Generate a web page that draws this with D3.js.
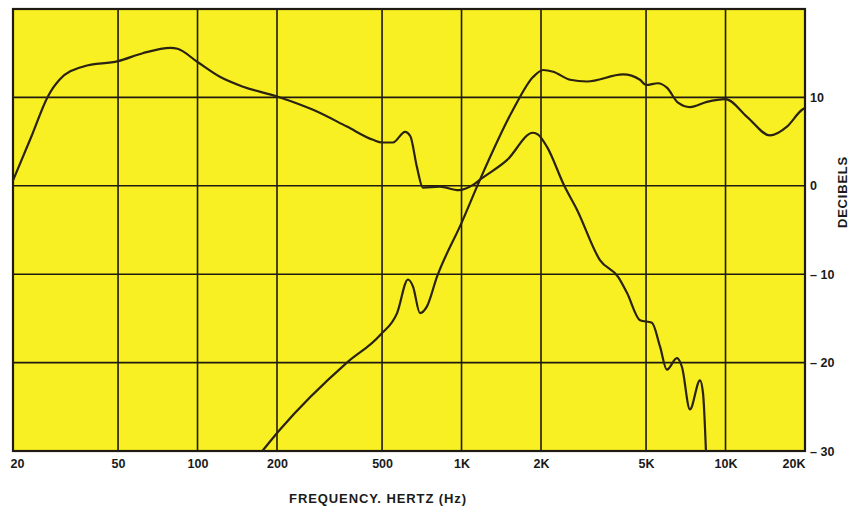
<!DOCTYPE html>
<html>
<head>
<meta charset="utf-8">
<script src="https://cdn.jsdelivr.net/npm/d3@7"></script>
<style>
  html, body { margin: 0; padding: 0; background: #ffffff; }
  svg { display: block; }
  text { font-family: "Liberation Sans", Arial, sans-serif; font-weight: bold; fill: #1a1a1a; }
</style>
</head>
<body>
<svg id="chart" width="856" height="507"></svg>
<script>
// ---- data ----
const xTicks = [20, 50, 100, 200, 500, 1000, 2000, 5000, 10000, 20000];
const xTickLabels = ["20", "50", "100", "200", "500", "1K", "2K", "5K", "10K", "20K"];
const yTicks = [10, 0, -10, -20, -30];
const yTickLabels = ["10", "0", "\u2013 10", "\u2013 20", "\u2013 30"];

// woofer response (frequency Hz, dB)
const wooferFreq = [20, 23.5, 27, 28.4, 30, 37, 50, 62, 79, 84, 100, 122, 149, 200, 244, 274, 368, 462, 500, 550, 611, 640, 678, 714, 828, 975, 1105, 1175, 1486, 1866, 1950, 2108, 2450, 2737, 3344, 3918, 4233, 4743, 5264, 5649, 5997, 6545, 6840, 7331, 8004, 8214, 8430];
const wooferDb   = [0.6, 5.6, 10, 11.1, 12.0, 13.5, 14.1, 15.0, 15.6, 15.5, 14.0, 12.3, 11.2, 10.1, 9.2, 8.6, 6.7, 5.2, 4.9, 4.9, 6.1, 5.6, 2.1, -0.2, -0.1, -0.5, 0.1, 0.7, 2.9, 6.0, 5.8, 4.4, 0.0, -2.7, -8.4, -10.3, -12.1, -15.2, -15.5, -18.2, -20.8, -19.5, -20.5, -25.3, -22.0, -23.4, -30];

// tweeter response (frequency Hz, dB)
const tweeterFreq = [176, 205, 368, 491, 570, 627, 655, 696, 738, 807, 1000, 1175, 1567, 1866, 2037, 2225, 2576, 2987, 4092, 4743, 5000, 5548, 5997, 6606, 7331, 8505, 10000, 12060, 14730, 17090, 19500, 20000];
const tweeterDb   = [-30, -27.6, -20.0, -16.9, -14.4, -10.6, -11.4, -14.4, -13.7, -10.3, -4.2, 0.7, 8.6, 12.3, 13.1, 12.9, 12.0, 11.8, 12.6, 12.0, 11.4, 11.6, 11.1, 9.4, 8.9, 9.5, 9.8, 7.8, 5.7, 6.7, 8.6, 8.8];

// ---- layout ----
const svg = d3.select("#chart");
const x = d3.scaleLog().domain([20, 20000]).range([13, 805]);
const y = d3.scaleLinear().domain([-30, 20]).range([451, 9]);

// plot background
svg.append("rect")
  .attr("x", x(20)).attr("y", y(20))
  .attr("width", x(20000) - x(20)).attr("height", y(-30) - y(20))
  .attr("fill", "#f8f022");

// grid
const grid = svg.append("g").attr("stroke", "#1f1a12").attr("stroke-width", 1.6);
grid.selectAll("line.v").data(xTicks.slice(1, -1)).join("line")
  .attr("x1", d => x(d)).attr("x2", d => x(d))
  .attr("y1", y(20)).attr("y2", y(-30));
grid.selectAll("line.h").data([10, 0, -10, -20]).join("line")
  .attr("x1", x(20)).attr("x2", x(20000))
  .attr("y1", d => y(d)).attr("y2", d => y(d));

// border
svg.append("rect")
  .attr("x", x(20)).attr("y", y(20))
  .attr("width", x(20000) - x(20)).attr("height", y(-30) - y(20))
  .attr("fill", "none").attr("stroke", "#1f1a12").attr("stroke-width", 2.2);

// curves
svg.append("clipPath").attr("id", "plotclip").append("rect")
  .attr("x", x(20)).attr("y", y(20))
  .attr("width", x(20000) - x(20)).attr("height", y(-30) - y(20));

const line = d3.line()
  .x(d => x(d[0])).y(d => y(d[1]))
  .curve(d3.curveMonotoneX);

const curves = svg.append("g").attr("clip-path", "url(#plotclip)");
curves.append("path")
  .attr("d", line(wooferFreq.map((f, i) => [f, wooferDb[i]])))
  .attr("fill", "none").attr("stroke", "#2a2212").attr("stroke-width", 2.2)
  .attr("stroke-linejoin", "round");
curves.append("path")
  .attr("d", line(tweeterFreq.map((f, i) => [f, tweeterDb[i]])))
  .attr("fill", "none").attr("stroke", "#2a2212").attr("stroke-width", 2.2)
  .attr("stroke-linejoin", "round");

// x axis labels
const xAxis = d3.axisBottom(x)
  .tickValues(xTicks)
  .tickFormat((d, i) => xTickLabels[i])
  .tickSize(0).tickPadding(8);
const gx = svg.append("g").attr("transform", `translate(0,${y(-30)})`).call(xAxis);
gx.select(".domain").remove();
gx.selectAll("text")
  .attr("font-size", 12.5).attr("font-family", "Liberation Sans, Arial, sans-serif")
  .attr("font-weight", "bold").attr("fill", "#1a1a1a")
  .attr("text-anchor", (d, i) => i === 0 ? "start" : (i === xTicks.length - 1 ? "end" : "middle"))
  .attr("dx", (d, i) => i === 0 ? -3 : 0);

// y axis labels (right)
const yAxis = d3.axisRight(y)
  .tickValues(yTicks)
  .tickFormat((d, i) => yTickLabels[i])
  .tickSize(0).tickPadding(5);
const gy = svg.append("g").attr("transform", `translate(${x(20000)},0)`).call(yAxis);
gy.select(".domain").remove();
gy.selectAll("text")
  .attr("font-size", 12.5).attr("font-family", "Liberation Sans, Arial, sans-serif")
  .attr("font-weight", "bold").attr("fill", "#1a1a1a");

// axis titles
svg.append("text")
  .attr("x", 378).attr("y", 503)
  .attr("text-anchor", "middle").attr("font-size", 13)
  .attr("letter-spacing", 0.9)
  .text("FREQUENCY. HERTZ (Hz)");

svg.append("text")
  .attr("transform", "translate(847,192) rotate(-90)")
  .attr("text-anchor", "middle").attr("font-size", 13)
  .attr("letter-spacing", 0.8)
  .text("DECIBELS");
</script>
</body>
</html>
